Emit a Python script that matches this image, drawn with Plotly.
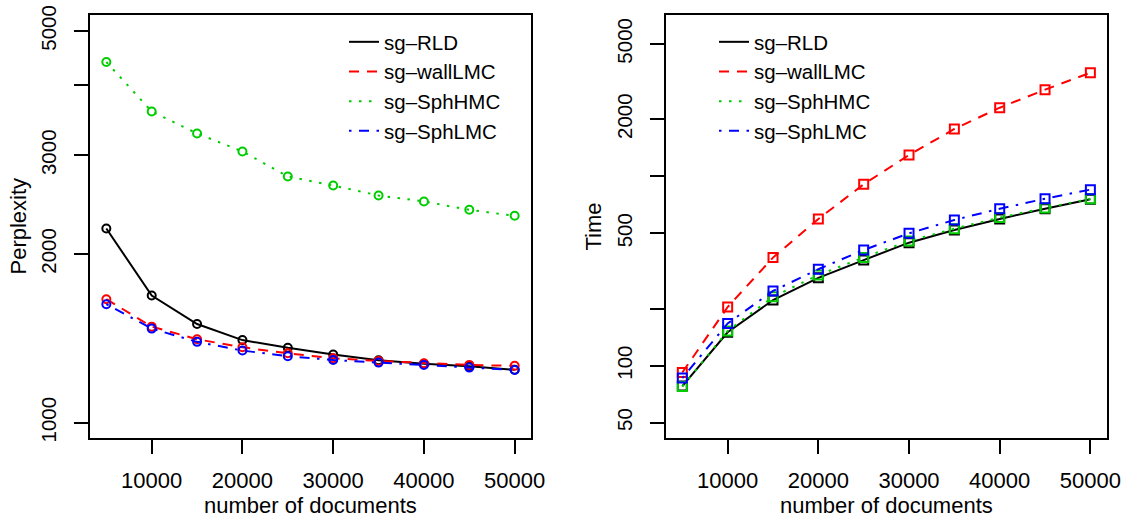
import plotly.graph_objects as go

# ---- data ----
docs = [5000, 10000, 15000, 20000, 25000, 30000, 35000, 40000, 45000, 50000]

series_names = ["sg–RLD", "sg–wallLMC", "sg–SphHMC", "sg–SphLMC"]

perp_rld = [2221, 1686, 1500, 1404, 1360, 1323, 1292, 1274, 1261, 1243]
perp_wall = [1661, 1484, 1409, 1363, 1330, 1303, 1289, 1277, 1268, 1263]
perp_sphhmc = [4402, 3592, 3282, 3048, 2750, 2650, 2544, 2482, 2398, 2340]
perp_sphlmc = [1627, 1472, 1394, 1345, 1314, 1294, 1280, 1268, 1254, 1242]

time_rld = [78, 150, 222, 291, 361, 446, 520, 595, 674, 756]
time_wall = [92, 204, 372, 595, 907, 1295, 1777, 2302, 2866, 3524]
time_sphhmc = [77.5, 152.5, 231, 301, 373, 455, 529, 605, 680, 761]
time_sphlmc = [86, 167, 248, 323, 408, 500, 588, 674, 761, 850]

x_tickvals = [10000, 20000, 30000, 40000, 50000]
x_ticktext = ["10000", "20000", "30000", "40000", "50000"]
perp_tickvals = [1000, 2000, 3000, 4000, 5000]
perp_ticktext = ["1000", "2000", "3000", "", "5000"]
time_tickvals = [50, 100, 200, 500, 1000, 2000, 5000]
time_ticktext = ["50", "100", "", "500", "", "2000", "5000"]

# ---- styles ----
colors = ["#000000", "#FF0000", "#00CD00", "#0000FF"]
dashes = ["solid", "10px,8px", "2.5px,7.5px", "2.5px,7.5px,10px,7.5px"]
LW = 2
FONT = "Liberation Sans, Arial, sans-serif"
FS = 22
YFS = 20.5
LFS = 20.5

# the body margin is removed by a post script, so window pixels == figure pixels
W, H = 1127, 519


def px(xw):
    return xw / W


def py(yw):
    return (H - yw) / H


# plot-region geometry (window pixels)
L1, R1 = 90, 531
L2, R2 = 666, 1106.7
TOP, BOT = 15, 438

fig = go.Figure()

perp = [perp_rld, perp_wall, perp_sphhmc, perp_sphlmc]
times = [time_rld, time_wall, time_sphhmc, time_sphlmc]

for i in range(4):
    fig.add_trace(go.Scatter(
        x=docs, y=perp[i], mode="lines+markers",
        line=dict(color=colors[i], width=LW, dash=dashes[i]),
        marker=dict(symbol="circle-open", size=8, color=colors[i],
                    line=dict(width=2, color=colors[i])),
        xaxis="x", yaxis="y", showlegend=False, name=series_names[i]))
for i in range(4):
    fig.add_trace(go.Scatter(
        x=docs, y=times[i], mode="lines+markers",
        line=dict(color=colors[i], width=LW, dash=dashes[i]),
        marker=dict(symbol="square-open", size=9, color=colors[i],
                    line=dict(width=2, color=colors[i])),
        xaxis="x2", yaxis="y2", showlegend=False, name=series_names[i]))

# legend proxies (line only, like R legend)
for lg, xa, ya in [("legend", "x", "y"), ("legend2", "x2", "y2")]:
    for i in range(4):
        fig.add_trace(go.Scatter(
            x=[None], y=[None], mode="lines", name=series_names[i],
            line=dict(color=colors[i], width=LW, dash=dashes[i]),
            xaxis=xa, yaxis=ya, legend=lg, showlegend=True))

axis_common = dict(
    showline=True, mirror=True, linecolor="black", linewidth=1.6,
    ticks="outside", ticklen=14, tickwidth=1.6, tickcolor="black",
    showgrid=False, zeroline=False, automargin=False,
)
xfont = dict(family=FONT, size=FS, color="black")
yfont = dict(family=FONT, size=YFS, color="black")

ydom = [py(BOT), py(TOP)]

fig.update_layout(
    width=W, height=H,
    margin=dict(l=0, r=0, t=0, b=0),
    paper_bgcolor="white", plot_bgcolor="white",
    font=dict(family=FONT, size=FS, color="black"),
    xaxis=dict(domain=[px(L1), px(R1)], range=[3200, 51800],
               tickvals=x_tickvals, ticktext=x_ticktext, tickfont=xfont,
               anchor="y", ticklabelstandoff=8, **axis_common),
    yaxis=dict(domain=ydom, type="log", range=[2.9727, 3.7275],
               tickvals=perp_tickvals, ticktext=perp_ticktext, tickangle=-90,
               tickfont=yfont, ticklabeloverflow="allow",
               anchor="x", ticklabelstandoff=10, **axis_common),
    xaxis2=dict(domain=[px(L2), px(R2)], range=[3200, 51800],
                tickvals=x_tickvals, ticktext=x_ticktext, tickfont=xfont,
                anchor="y2", ticklabelstandoff=8, **axis_common),
    yaxis2=dict(domain=ydom, type="log", range=[1.618, 3.8516],
                tickvals=time_tickvals, ticktext=time_ticktext, tickangle=-90,
                tickfont=yfont, ticklabeloverflow="allow",
                anchor="x2", ticklabelstandoff=10, **axis_common),
    legend=dict(x=px(344), y=py(22), xanchor="left", yanchor="top",
                bgcolor="rgba(0,0,0,0)", font=dict(family=FONT, size=LFS),
                tracegroupgap=0, itemclick=False),
    legend2=dict(x=px(714), y=py(22), xanchor="left", yanchor="top",
                 bgcolor="rgba(0,0,0,0)", font=dict(family=FONT, size=LFS),
                 tracegroupgap=0, itemclick=False),
    annotations=[
        dict(text="Perplexity", x=px(18), y=py((TOP + BOT) / 2),
             xref="paper", yref="paper", textangle=-90, showarrow=False,
             xanchor="center", yanchor="middle", font=dict(family=FONT, size=FS)),
        dict(text="Time", x=px(593), y=py((TOP + BOT) / 2),
             xref="paper", yref="paper", textangle=-90, showarrow=False,
             xanchor="center", yanchor="middle", font=dict(family=FONT, size=FS)),
        dict(text="number of documents", x=px((L1 + R1) / 2), y=py(505),
             xref="paper", yref="paper", showarrow=False,
             xanchor="center", yanchor="middle", font=dict(family=FONT, size=FS)),
        dict(text="number of documents", x=px((L2 + R2) / 2), y=py(505),
             xref="paper", yref="paper", showarrow=False,
             xanchor="center", yanchor="middle", font=dict(family=FONT, size=FS)),
    ],
)

fig.write_html(
    "out.html",
    config={"displayModeBar": False},
    post_script="document.body.style.margin='0';document.body.style.padding='0';",
)
